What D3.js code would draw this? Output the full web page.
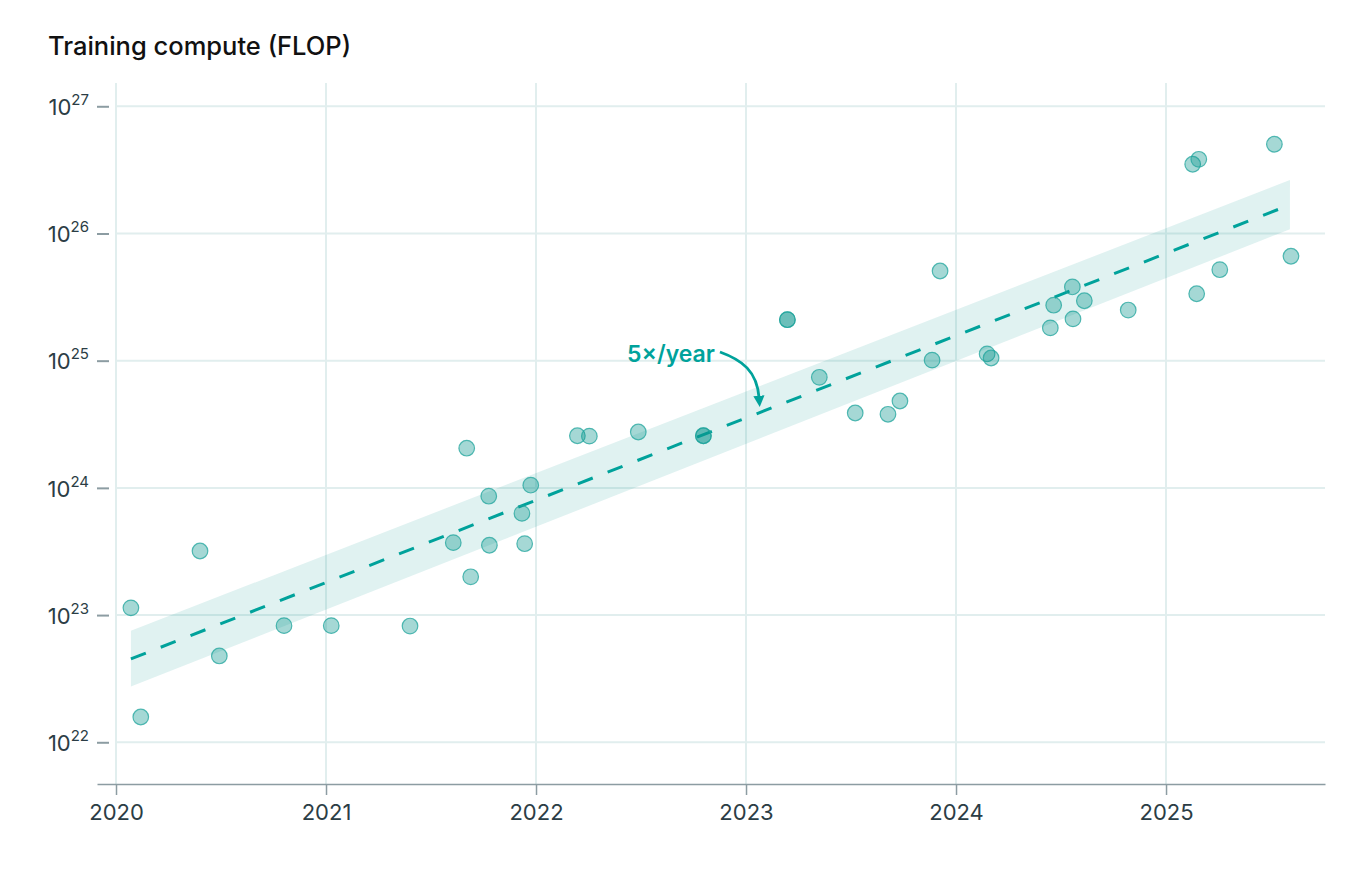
<!DOCTYPE html>
<html>
<head>
<meta charset="utf-8">
<script src="https://cdn.jsdelivr.net/npm/d3@7"></script>
<style>
  body { margin: 0; background: #fff; }
  text { font-family: Inter, "Noto Sans", sans-serif; }
</style>
</head>
<body>
<div id="chart"></div>
<script>
// publication dates as decimal years, training compute in FLOP
var modelDates = [2020.071, 2020.118, 2020.40, 2020.492, 2020.80, 2021.025, 2021.40,
                  2021.606, 2021.67, 2021.689, 2021.775, 2021.778, 2021.933, 2021.946,
                  2021.975, 2022.197, 2022.254, 2022.487, 2022.797, 2022.797,
                  2023.197, 2023.197, 2023.349, 2023.52, 2023.676, 2023.733,
                  2023.886, 2023.924, 2024.148, 2024.167, 2024.449, 2024.465,
                  2024.554, 2024.557, 2024.611, 2024.82, 2025.127, 2025.156,
                  2025.146, 2025.256, 2025.516, 2025.595];
var modelCompute = [1.14e23, 1.58e22, 3.19e23, 4.77e22, 8.26e22, 8.26e22, 8.2e22,
                    3.71e23, 2.05e24, 2.0e23, 8.6e23, 3.54e23, 6.3e23, 3.64e23,
                    1.05e24, 2.57e24, 2.55e24, 2.75e24, 2.57e24, 2.57e24,
                    2.1e25, 2.1e25, 7.4e24, 3.88e24, 3.79e24, 4.82e24,
                    1.01e25, 5.07e25, 1.13e25, 1.05e25, 1.81e25, 2.73e25,
                    3.8e25, 2.13e25, 2.96e25, 2.5e25, 3.5e26, 3.83e26,
                    3.36e25, 5.19e25, 5.03e26, 6.62e25];

// fitted trend and its confidence band (start and end of fit)
var trendDates = [2020.071, 2025.59];
var trendCompute = [4.52e22, 1.68e26];
var bandLower = [2.74e22, 1.08e26];
var bandUpper = [7.53e22, 2.63e26];

var yearTicks = [2020, 2021, 2022, 2023, 2024, 2025];
var computeTicks = [1e22, 1e23, 1e24, 1e25, 1e26, 1e27];
var trendLabel = "5×/year";
var chartTitle = "Training compute (FLOP)";

var width = 1372,
    height = 870,
    teal = "#00a29b",
    dotColor = "#0a958d",
    gridColor = "#e1eeee",
    axisColor = "#8c9ca2",
    labelColor = "#2b3d45";

var x = d3.scaleLinear().domain([2019.9095, 2025.757]).range([97, 1325]),
    y = d3.scaleLog().domain([Math.pow(10, 21.672), Math.pow(10, 27.183)]).range([784, 83]);

var svg = d3.select("#chart").append("svg")
    .attr("width", width)
    .attr("height", height);

svg.append("text")
    .attr("x", 48)
    .attr("y", 55)
    .attr("font-size", 25.5)
    .attr("font-weight", 500)
    .attr("fill", "#111")
    .text(chartTitle);

// grid
var grid = svg.append("g").attr("class", "grid");
grid.selectAll("line.h")
    .data(computeTicks)
    .enter().append("line")
    .attr("class", "h")
    .attr("x1", x(2020) - 1)
    .attr("x2", x.range()[1])
    .attr("y1", function(d){ return y(d); })
    .attr("y2", function(d){ return y(d); })
    .attr("stroke", gridColor)
    .attr("stroke-width", 2);

grid.selectAll("line.v")
    .data(yearTicks)
    .enter().append("line")
    .attr("class", "v")
    .attr("x1", function(d){ return x(d); })
    .attr("x2", function(d){ return x(d); })
    .attr("y1", y.range()[1])
    .attr("y2", y.range()[0])
    .attr("stroke", gridColor)
    .attr("stroke-width", 2);

// axes
var xAxis = d3.axisBottom(x)
    .tickValues(yearTicks)
    .tickFormat(d3.format("d"))
    .tickSizeInner(11)
    .tickSizeOuter(0)
    .tickPadding(9);

var gx = svg.append("g")
    .attr("transform", "translate(0," + y.range()[0] + ")")
    .call(xAxis);
gx.select(".domain").attr("stroke", axisColor).attr("stroke-width", 1.5);
gx.selectAll(".tick line").attr("stroke", axisColor).attr("stroke-width", 1.5);
gx.selectAll(".tick text")
    .attr("font-size", 22)
    .attr("fill", labelColor)
    .attr("font-family", "Inter, sans-serif");

var yAxis = d3.axisLeft(y)
    .tickValues(computeTicks)
    .tickSize(12)
    .tickPadding(8)
    .tickFormat("");

var gy = svg.append("g")
    .attr("transform", "translate(109,0)")
    .call(yAxis);
gy.select(".domain").remove();
gy.selectAll(".tick line").attr("stroke", axisColor).attr("stroke-width", 2);

var ylab = gy.selectAll(".tick text")
    .attr("fill", labelColor)
    .attr("font-family", "Inter, sans-serif")
    .attr("font-size", 22)
    .attr("dy", "0.37em");
ylab.append("tspan").text("10");
ylab.append("tspan")
    .attr("font-size", 15)
    .attr("dy", -10)
    .text(function(d){ return Math.round(Math.log10(d)); });

// confidence band
var band = trendDates.map(function(d, i){
    return {date: d, lo: bandLower[i], hi: bandUpper[i], mid: trendCompute[i]};
});

svg.append("path")
    .datum(band)
    .attr("fill", dotColor)
    .attr("fill-opacity", 0.125)
    .attr("d", d3.area()
        .x(function(d){ return x(d.date); })
        .y0(function(d){ return y(d.lo); })
        .y1(function(d){ return y(d.hi); }));

svg.append("path")
    .datum(band)
    .attr("fill", "none")
    .attr("stroke", teal)
    .attr("stroke-width", 3)
    .attr("stroke-dasharray", "16,16")
    .attr("d", d3.line()
        .x(function(d){ return x(d.date); })
        .y(function(d){ return y(d.mid); }));

// models
svg.append("g").selectAll("circle")
    .data(modelDates.map(function(d, i){ return {date: d, flop: modelCompute[i]}; }))
    .enter().append("circle")
    .attr("cx", function(d){ return x(d.date); })
    .attr("cy", function(d){ return y(d.flop); })
    .attr("r", 7.8)
    .attr("fill", dotColor)
    .attr("fill-opacity", 0.37)
    .attr("stroke", "#1fa49c")
    .attr("stroke-opacity", 0.75)
    .attr("stroke-width", 1.2);

// annotation
svg.append("defs").append("marker")
    .attr("id", "arrow")
    .attr("viewBox", "0 0 10 10")
    .attr("refX", 2)
    .attr("refY", 5)
    .attr("markerWidth", 4)
    .attr("markerHeight", 4)
    .attr("markerUnits", "strokeWidth")
    .attr("orient", "auto")
    .append("path")
    .attr("d", "M0,0L10,5L0,10z")
    .attr("fill", teal);

var ax0 = x(2022.876), ay0 = y(Math.pow(10, 25.068)),
    ax1 = x(2023.067), ay1 = y(Math.pow(10, 24.636));

svg.append("text")
    .attr("x", ax0 - 5)
    .attr("y", ay0 + 10)
    .attr("text-anchor", "end")
    .attr("font-size", 23)
    .attr("font-weight", 600)
    .attr("fill", teal)
    .text(trendLabel);

svg.append("path")
    .attr("d", "M" + ax0 + "," + ay0 +
               "C" + (ax0 + 22) + "," + (ay0 + 8) + " " +
               (ax1 - 3) + "," + (ay1 - 36) + " " + (ax1 - 1) + "," + (ay1 - 9))
    .attr("fill", "none")
    .attr("stroke", teal)
    .attr("stroke-width", 2.8)
    .attr("marker-end", "url(#arrow)");
</script>
</body>
</html>
